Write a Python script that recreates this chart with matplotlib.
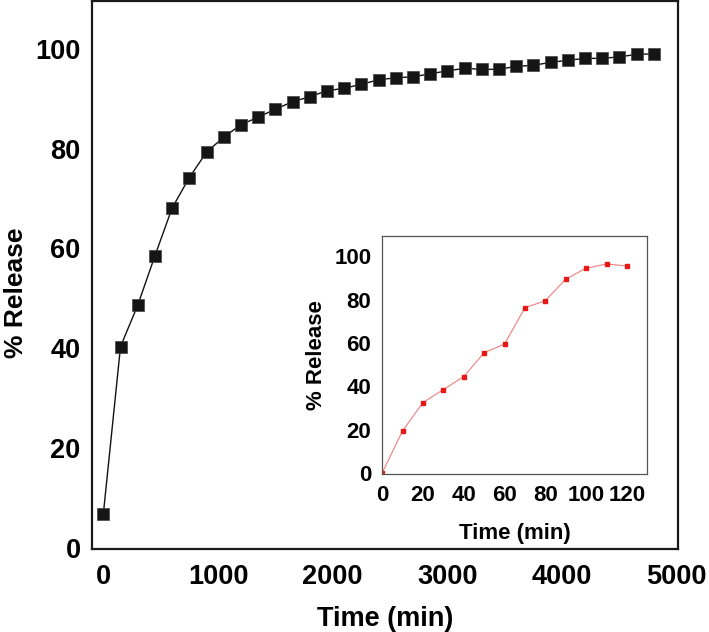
import matplotlib
matplotlib.use("Agg")
import matplotlib.pyplot as plt

plt.rcParams['font.family'] = ['Liberation Sans', 'DejaVu Sans']
plt.rcParams['font.weight'] = 'bold'

# Main release profile
time_main = [0, 150, 300, 450, 600, 750, 900, 1050, 1200, 1350, 1500, 1650,
             1800, 1950, 2100, 2250, 2400, 2550, 2700, 2850, 3000, 3150, 3300,
             3450, 3600, 3750, 3900, 4050, 4200, 4350, 4500, 4650, 4800]
release_main = [6.7, 40.3, 48.6, 58.5, 68.1, 74.2, 79.3, 82.3, 84.8, 86.3, 87.9,
                89.4, 90.4, 91.6, 92.1, 92.9, 93.8, 94.2, 94.4, 95.0, 95.6, 96.1,
                95.9, 95.9, 96.5, 96.7, 97.3, 97.7, 98.1, 98.1, 98.4, 98.9, 99.0]
main_xticks = [0, 1000, 2000, 3000, 4000, 5000]
main_yticks = [0, 20, 40, 60, 80, 100]

# Inset (first 120 min)
time_inset = [0, 10, 20, 30, 40, 50, 60, 70, 80, 90, 100, 110, 120]
release_inset = [0, 19.4, 32.5, 38.5, 44.5, 55.5, 59.5, 76.3, 79.5, 89.5, 94.5, 96.5, 95.5]
inset_xticks = [0, 20, 40, 60, 80, 100, 120]
inset_yticks = [0, 20, 40, 60, 80, 100]

fig = plt.figure(figsize=(7.09, 6.32), dpi=100)
ax = fig.add_axes([0.1302, 0.1313, 0.8261, 0.8671])
ax.plot(time_main, release_main, color='#111111', lw=1.0, marker='s',
        markersize=8.5, markerfacecolor='#151515', markeredgecolor='#444444',
        markeredgewidth=0.5)
ax.set_xlim(-96, 5011)
ax.set_ylim(-0.3, 109.6)
ax.set_xticks(main_xticks)
ax.set_yticks(main_yticks)
ax.tick_params(axis='both', length=0, labelsize=19.5)
ax.tick_params(axis='x', pad=11)
ax.tick_params(axis='y', pad=8.5)
for s in ax.spines.values():
    s.set_linewidth(1.6)
    s.set_color('#1a1a1a')
ax.set_xlabel('Time (min)', fontsize=19.5, fontweight='bold', labelpad=11)
ax.set_ylabel('% Release', fontsize=19, fontweight='bold')
ax.yaxis.set_label_coords(-0.109, 0.467)

ins = fig.add_axes([0.5384, 0.2495, 0.3746, 0.3775])
ins.plot(time_inset, release_inset, color='#f08080', lw=0.8, marker='s',
         markersize=3.4, markerfacecolor='#e81818', markeredgecolor='#e81818')
ins.set_xlim(-0.2, 130)
ins.set_ylim(-0.6, 109.5)
ins.set_xticks(inset_xticks)
ins.set_yticks(inset_yticks)
ins.tick_params(axis='both', length=0, labelsize=16)
ins.tick_params(axis='x', pad=8)
ins.tick_params(axis='y', pad=7.5)
for s in ins.spines.values():
    s.set_linewidth(0.9)
    s.set_color('#555555')
ins.set_xlabel('Time (min)', fontsize=16, fontweight='bold', labelpad=12)
ins.set_ylabel('% Release', fontsize=16, fontweight='bold', labelpad=5)

fig.savefig('out.png', dpi=100, facecolor='white')
